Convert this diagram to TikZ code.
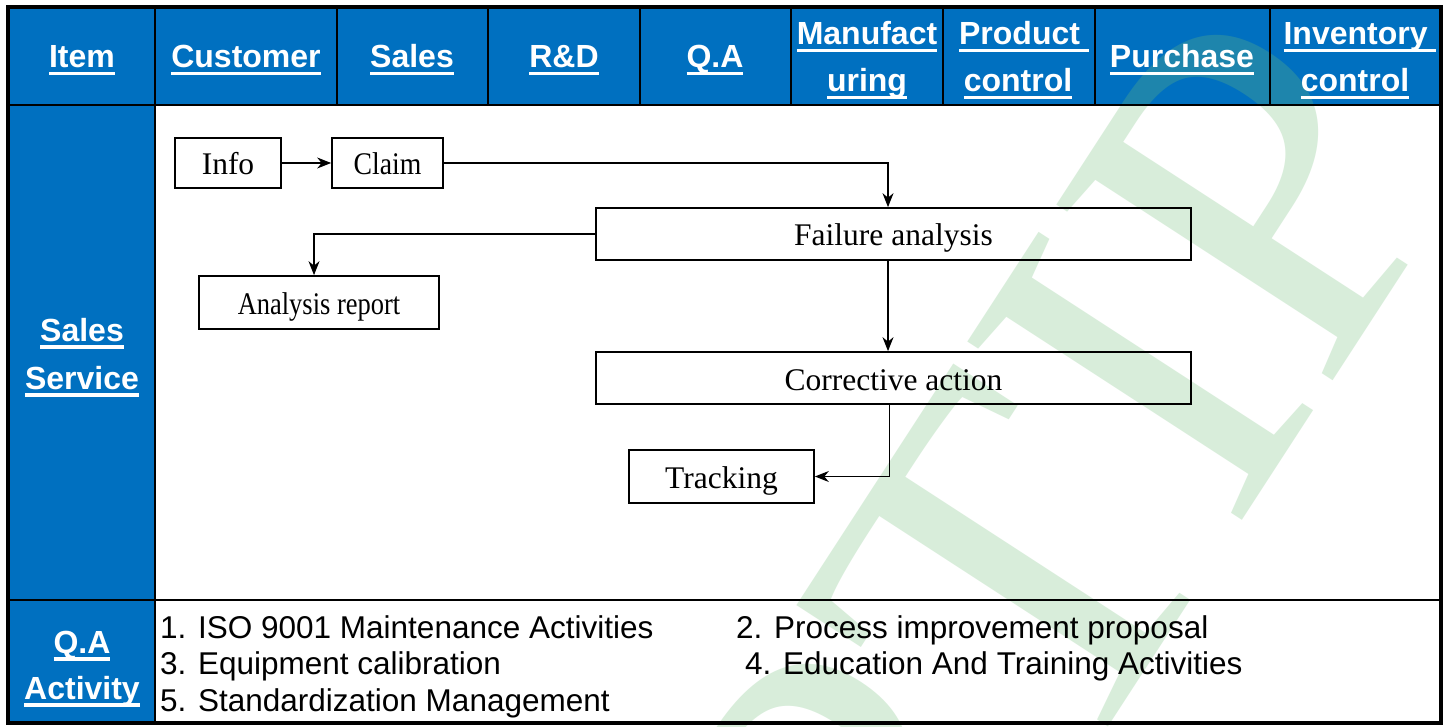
\documentclass[tikz,border=0pt]{standalone}
\usepackage{fontspec}
\setmainfont{Liberation Serif}
\setsansfont{Liberation Sans}
\usetikzlibrary{arrows.meta,calc}
\definecolor{hdblue}{RGB}{0,112,192}
\definecolor{wmgreen}{RGB}{112,190,120}
% heavy underline for the header labels
\newcommand\ulbox[1]{\setbox0\hbox{#1}\rlap{\rule[-7.5pt]{\wd0}{3.5pt}}\box0}
\begin{document}
\begin{tikzpicture}[x=1pt,y=-1pt,
  hd/.style={font=\sffamily\bfseries\fontsize{32}{38}\selectfont,text=white,inner sep=0pt,anchor=base},
  stepbox/.style={draw,line width=1.7pt,inner sep=0pt,text height=24pt,text depth=0pt,font=\fontsize{31.5}{36}\selectfont},
  link/.style={line width=1.2pt,-{Stealth[length=14pt,width=11pt,inset=4.5pt]}},
  gridline/.style={line width=2.5pt},
  qaitem/.style={font=\sffamily\fontsize{31.5}{38}\selectfont,inner sep=0pt,anchor=base west},
  wm/.style={font=\fontsize{500}{500}\selectfont,text=wmgreen,text opacity=0.27,inner sep=0pt}]
\useasboundingbox (0,0) rectangle (1450,727);
\fill[white] (0,0) rectangle (1450,727);
% coloured cells
\fill[hdblue] (8,7) rectangle (1441,105);
\fill[hdblue] (8,105) rectangle (155,723);
% background mark
\begin{scope}
\clip (0,0) rectangle (1450,727);
\node[wm,rotate=57,anchor=base east] (wmark) at (1475,162) {CPTIP};
\end{scope}
% table rules
\foreach \x in {337,488,640,791,943,1095,1270}
  \draw[gridline] (\x,7) -- (\x,105);
\draw[gridline] (155,7) -- (155,723);
\draw[gridline] (8,105) -- (1441,105);
\draw[gridline] (8,600) -- (1441,600);
\draw[line width=4pt] (8,7) rectangle (1441,723);
% header labels
\node[hd] (hItem) at (82,68) {\ulbox{Item}};
\node[hd] (hCust) at (246,68) {\ulbox{Customer}};
\node[hd] (hSales) at (412,68) {\ulbox{Sales}};
\node[hd] (hRD) at (564,68) {\ulbox{R\&D}};
\node[hd] (hQA) at (715,68) {\ulbox{Q.A}};
\node[hd] (hManA) at (867,45) {\ulbox{Manufact}};
\node[hd] (hManB) at (867,92) {\ulbox{uring}};
\node[hd] (hProdA) at (1024,45) {\ulbox{Product\ }};
\node[hd] (hProdB) at (1018,92) {\ulbox{control}};
\node[hd] (hPur) at (1182,68) {\ulbox{Purchase}};
\node[hd] (hInvA) at (1360,45) {\ulbox{Inventory\ }};
\node[hd] (hInvB) at (1355,92) {\ulbox{control}};
% row labels
\node[hd] (rSalesA) at (82,341) {\ulbox{Sales}};
\node[hd] (rSalesB) at (82,389) {\ulbox{Service}};
\node[hd] (rQAA) at (82,653) {\ulbox{Q.A}};
\node[hd] (rQAB) at (82,699) {\ulbox{Activity}};
% flow steps
\node[stepbox,minimum width=106pt,minimum height=50pt] (info) at (228,163) {Info};
\node[stepbox,minimum width=111pt,minimum height=50pt] (claim) at (387.5,163) {\scalebox{0.88}[1]{Claim}};
\node[stepbox,minimum width=595pt,minimum height=52pt] (fa) at (893.5,234) {Failure analysis};
\node[stepbox,minimum width=240pt,minimum height=53pt] (ar) at (319,302.5) {\scalebox{0.84}[1]{Analysis report}};
\node[stepbox,minimum width=595pt,minimum height=52pt] (ca) at (893.5,378) {Corrective action};
\node[stepbox,minimum width=185pt,minimum height=53pt] (tr) at (721.5,476.5) {Tracking};
% connectors
\draw[link] (info) -- (claim);
\draw[link] (claim.east) -| ([xshift=-5.5pt]fa.north);
\draw[link] (fa.west) -| ([xshift=-5pt]ar.north);
\draw[link] ([xshift=-5.5pt]fa.south) -- ([xshift=-5.5pt]ca.north);
\draw[link] ([xshift=-4pt]ca.south) |- (tr.east);
% quality activities
\node[qaitem] (q1) at (160,638) {1. ISO 9001 Maintenance Activities};
\node[qaitem] (q2) at (736,638) {2. Process improvement proposal};
\node[qaitem] (q3) at (160,674.5) {3. Equipment calibration};
\node[qaitem] (q4) at (745,674.5) {4. Education And Training Activities};
\node[qaitem] (q5) at (160,711) {5. Standardization Management};
\end{tikzpicture}
\end{document}
